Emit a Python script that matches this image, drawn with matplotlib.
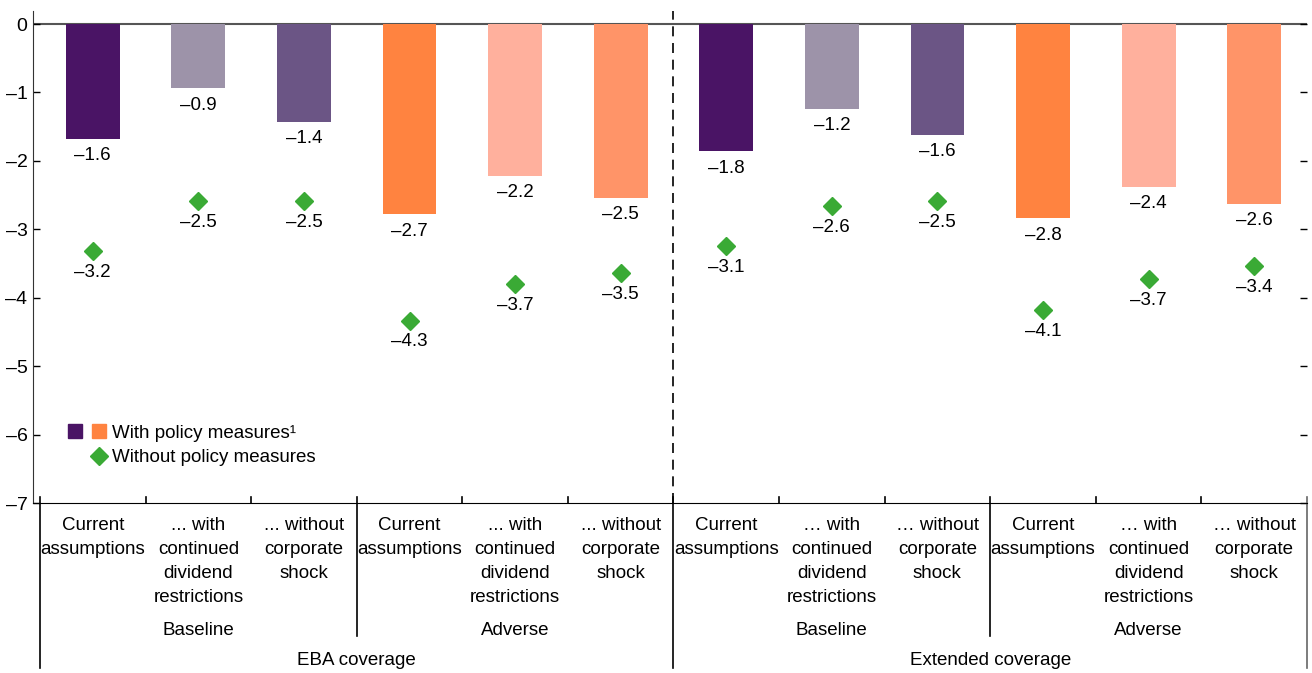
import matplotlib.pyplot as plt
import matplotlib.transforms as mtransforms
from matplotlib.lines import Line2D
from matplotlib.legend_handler import HandlerTuple

plt.rcParams['font.family'] = ['Liberation Sans', 'DejaVu Sans']
plt.rcParams['font.size'] = 13.5

# data
scenarios = ['Current\nassumptions', '... with\ncontinued\ndividend\nrestrictions', '... without\ncorporate\nshock',
             'Current\nassumptions', '... with\ncontinued\ndividend\nrestrictions', '... without\ncorporate\nshock',
             'Current\nassumptions', '\u2026 with\ncontinued\ndividend\nrestrictions', '\u2026 without\ncorporate\nshock',
             'Current\nassumptions', '\u2026 with\ncontinued\ndividend\nrestrictions', '\u2026 without\ncorporate\nshock']
cases = ['Baseline', 'Adverse', 'Baseline', 'Adverse']
coverage = ['EBA coverage', 'Extended coverage']

with_policy = [-1.68, -0.94, -1.43, -2.78, -2.22, -2.54, -1.86, -1.24, -1.62, -2.84, -2.38, -2.63]
with_labels = ['–1.6', '–0.9', '–1.4', '–2.7', '–2.2', '–2.5', '–1.8', '–1.2', '–1.6', '–2.8', '–2.4', '–2.6']
without_policy = [-3.32, -2.59, -2.59, -4.34, -3.80, -3.64, -3.25, -2.66, -2.59, -4.18, -3.73, -3.54]
without_labels = ['–3.2', '–2.5', '–2.5', '–4.3', '–3.7', '–3.5', '–3.1', '–2.6', '–2.5', '–4.1', '–3.7', '–3.4']

bar_colors = ['#4a1465', '#9d93a9', '#6b5585', '#ff8340', '#ffb09d', '#ff9468'] * 2
green = '#3aaa35'

fig = plt.figure(figsize=(13.12, 6.73), dpi=100)
ax = fig.add_axes([33 / 1312, 170 / 673, 1274 / 1312, 492 / 673])

x = list(range(len(with_policy)))
ax.bar(x, with_policy, width=0.51, color=bar_colors, zorder=2)
ax.plot(x, without_policy, linestyle='none', marker='D', markersize=9.5, color=green, zorder=3)

for xi, v, lab in zip(x, with_policy, with_labels):
    ax.annotate(lab, (xi, v), xytext=(0, -6), textcoords='offset points', ha='center', va='top')
for xi, v, lab in zip(x, without_policy, without_labels):
    ax.annotate(lab, (xi, v), xytext=(0, -9), textcoords='offset points', ha='center', va='top')

ax.axhline(0, color='#555555', linewidth=1.5, zorder=1)
ax.axvline(5.5, color='black', linewidth=1.2, dashes=(6, 4), zorder=1)

ax.set_xlim(-0.566, 11.5)
ax.set_ylim(-7, 0.19)
ax.set_yticks(range(0, -8, -1))
ax.set_yticklabels(['0'] + ['–%d' % i for i in range(1, 8)])
ax.tick_params(axis='y', direction='in', length=5, width=1, labelsize=14, pad=4, right=True)
for t in ax.yaxis.get_major_ticks():
    t.tick2line.set_marker(0)  # right ticks point outward
ax.set_xticks([])
for s in ['top', 'right']:
    ax.spines[s].set_visible(False)
ax.spines['left'].set_color('#333333')
ax.spines['bottom'].set_color('black')

# category boundaries and labels beneath the axis
trans = mtransforms.blended_transform_factory(ax.transData, ax.transAxes)
bounds = [i - 0.5 for i in range(13)]
for b in bounds:
    if b in (-0.5, 5.5):
        y0, c = -0.336, 'black'
    elif b == 11.5:
        y0, c = -0.336, '#666666'
    elif b in (2.5, 8.5):
        y0, c = -0.27, 'black'
    else:
        y0, c = 0, 'black'
    ax.plot([b, b], [0.013, y0], color=c, linewidth=1.2, transform=trans, clip_on=False)

for xi, lab in zip(x, scenarios):
    ax.text(xi, -0.029, lab, transform=trans, ha='center', va='top', linespacing=1.52)
for i, lab in enumerate(cases):
    ax.text(1 + 3 * i, -0.26, lab, transform=trans, ha='center', va='center')
for i, lab in enumerate(coverage):
    ax.text(2.5 + 6 * i, -0.321, lab, transform=trans, ha='center', va='center')

# legend
sq1 = Line2D([], [], linestyle='none', marker='s', markersize=9.5, color=bar_colors[0])
sq2 = Line2D([], [], linestyle='none', marker='s', markersize=9.5, color=bar_colors[3])
blank = Line2D([], [], linestyle='none')
dia = Line2D([], [], linestyle='none', marker='D', markersize=9.5, color=green)
ax.legend([(sq1, sq2), (blank, dia)], ['With policy measures¹', 'Without policy measures'],
          handler_map={tuple: HandlerTuple(ndivide=None, pad=0.35)},
          loc='center left', bbox_to_anchor=(0.026, 0.117), frameon=False, borderpad=0,
          handlelength=2.2, handletextpad=0.25, labelspacing=0.38, borderaxespad=0)

fig.savefig('out.png', dpi=100)
